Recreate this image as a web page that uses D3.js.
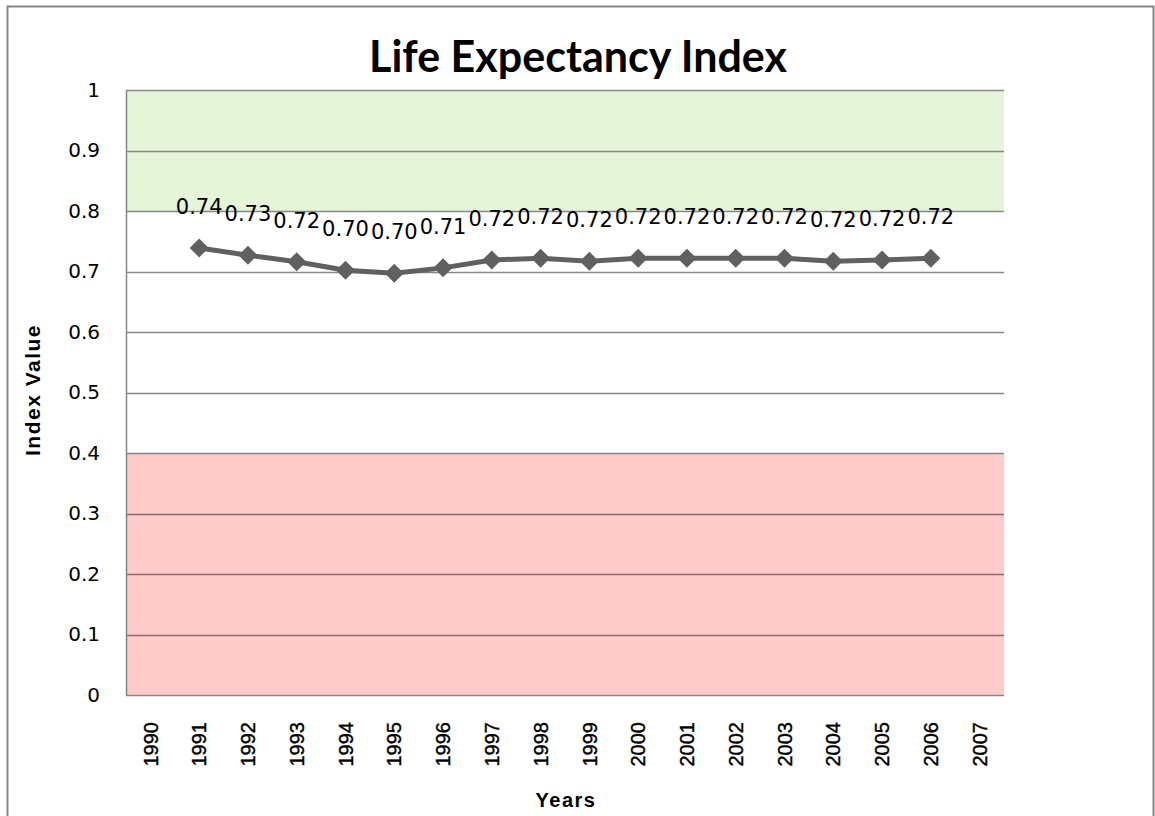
<!DOCTYPE html>
<html>
<head>
<meta charset="utf-8">
<script src="https://cdn.jsdelivr.net/npm/d3@7"></script>
<style>
  body { margin: 0; background: #fff; }
</style>
</head>
<body>
<div id="chart"></div>
<script>
// categories on the x axis
const years = ["1990", "1991", "1992", "1993", "1994", "1995", "1996", "1997", "1998",
    "1999", "2000", "2001", "2002", "2003", "2004", "2005", "2006", "2007"];
// index values (1990 and 2007 have no data)
const dataYears = ["1991", "1992", "1993", "1994", "1995", "1996", "1997", "1998",
    "1999", "2000", "2001", "2002", "2003", "2004", "2005", "2006"];
const indexValues = [0.739, 0.727, 0.716, 0.702, 0.697, 0.706, 0.719, 0.722,
    0.717, 0.722, 0.722, 0.722, 0.722, 0.717, 0.719, 0.722];
const yTicks = [0, 0.1, 0.2, 0.3, 0.4, 0.5, 0.6, 0.7, 0.8, 0.9, 1];
// shaded bands
const bands = [
    { from: 0.8, to: 1.0, color: "#e6f4da" },
    { from: 0.0, to: 0.4, color: "#ffcaca" }
];

const W = 1155, H = 816;
const plot = { left: 126, right: 1004, top: 90, bottom: 695 };

const svg = d3.select("#chart").append("svg")
    .attr("width", W)
    .attr("height", H);

// chart frame
svg.append("rect")
    .attr("x", 7.5).attr("y", 6.5)
    .attr("width", 1146).attr("height", 820)
    .attr("fill", "#fff")
    .attr("stroke", "#868686")
    .attr("stroke-width", 2);

const x = d3.scaleBand()
    .domain(years)
    .range([plot.left, plot.right]);

const y = d3.scaleLinear()
    .domain([0, 1])
    .range([plot.bottom, plot.top]);

svg.selectAll("rect.band")
    .data(bands)
    .enter()
    .append("rect")
    .attr("class", "band")
    .attr("x", plot.left)
    .attr("width", plot.right - plot.left)
    .attr("y", d => y(d.to))
    .attr("height", d => y(d.from) - y(d.to))
    .attr("fill", d => d.color);

// grid lines
svg.append("g")
    .selectAll("line")
    .data(yTicks)
    .enter()
    .append("line")
    .attr("x1", plot.left)
    .attr("x2", plot.right)
    .attr("y1", d => Math.round(y(d)) + 0.5)
    .attr("y2", d => Math.round(y(d)) + 0.5)
    .attr("stroke", d => d <= 0.3 && d > 0 ? "#8c6e6e" : "#868686")
    .attr("stroke-width", 1.5);

// plot area left edge
svg.append("line")
    .attr("x1", plot.left + 0.5).attr("x2", plot.left + 0.5)
    .attr("y1", plot.top).attr("y2", plot.bottom)
    .attr("stroke", "#868686")
    .attr("stroke-width", 1.5);

// y axis labels
const yAxis = svg.append("g")
    .attr("transform", `translate(${plot.left - 26},0)`)
    .call(d3.axisLeft(y).tickValues(yTicks).tickSize(0).tickPadding(0).tickFormat(d3.format("")));
yAxis.select(".domain").remove();
yAxis.selectAll("text")
    .attr("font-family", "DejaVu Sans")
    .attr("font-size", 20)
    .attr("fill", "#000");

// x axis labels, rotated
const xAxis = svg.append("g")
    .attr("transform", `translate(0,${plot.bottom})`)
    .call(d3.axisBottom(x).tickSize(0));
xAxis.select(".domain").remove();
xAxis.selectAll("text")
    .attr("font-family", "Liberation Sans, Arial")
    .attr("font-size", 20)
    .attr("fill", "#000")
    .attr("stroke", "#000")
    .attr("stroke-width", 0.4)
    .attr("text-anchor", "end")
    .attr("dy", "0.36em")
    .attr("transform", "translate(0,27) rotate(-90)")
    .attr("x", 0)
    .attr("y", 0);

const pts = dataYears.map((yr, i) => ({ year: yr, value: indexValues[i] }));

// series line
svg.append("path")
    .datum(pts)
    .attr("fill", "none")
    .attr("stroke", "#606060")
    .attr("stroke-width", 5)
    .attr("d", d3.line()
        .x(d => x(d.year) + x.bandwidth() / 2)
        .y(d => y(d.value)));

// diamond markers
svg.selectAll("path.marker")
    .data(pts)
    .enter()
    .append("path")
    .attr("class", "marker")
    .attr("d", d3.symbol().type(d3.symbolDiamond2).size(230))
    .attr("transform", d => `translate(${x(d.year) + x.bandwidth() / 2},${y(d.value)})`)
    .attr("fill", "#606060");

// data labels
svg.selectAll("text.lbl")
    .data(pts)
    .enter()
    .append("text")
    .attr("class", "lbl")
    .attr("x", d => x(d.year) + x.bandwidth() / 2)
    .attr("y", d => y(d.value) - 34)
    .attr("text-anchor", "middle")
    .attr("font-family", "DejaVu Sans")
    .attr("font-size", 21)
    .attr("fill", "#000")
    .text(d => d3.format(".2f")(d.value));

// title
svg.append("text")
    .attr("x", 578)
    .attr("y", 72)
    .attr("text-anchor", "middle")
    .attr("font-family", "Lato")
    .attr("font-weight", "bold")
    .attr("font-size", 43)
    .attr("fill", "#000")
    .text("Life Expectancy Index");

// axis titles
svg.append("text")
    .attr("transform", "translate(40,390) rotate(-90)")
    .attr("text-anchor", "middle")
    .attr("font-family", "Liberation Sans, Arial")
    .attr("font-weight", "bold")
    .attr("font-size", 21)
    .attr("letter-spacing", 1.5)
    .attr("fill", "#000")
    .text("Index Value");

svg.append("text")
    .attr("x", 566)
    .attr("y", 807)
    .attr("text-anchor", "middle")
    .attr("font-family", "Liberation Sans, Arial")
    .attr("font-weight", "bold")
    .attr("font-size", 20)
    .attr("letter-spacing", 1.5)
    .attr("fill", "#000")
    .text("Years");
</script>
</body>
</html>
